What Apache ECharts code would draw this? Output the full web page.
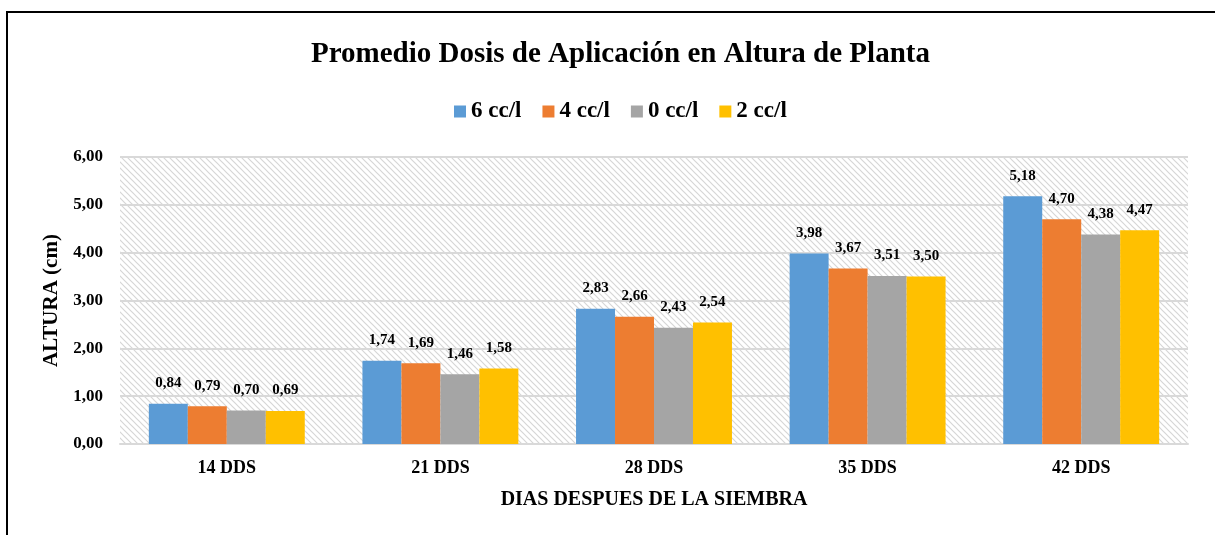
<!DOCTYPE html>
<html><head><meta charset="utf-8">
<script src="https://cdn.jsdelivr.net/npm/echarts@6/dist/echarts.min.js"></script>
<style>html,body{margin:0;padding:0;background:#fff}#c{width:1215px;height:535px}</style>
</head><body><div id="c"></div>
<script>
const categories = ['14 DDS','21 DDS','28 DDS','35 DDS','42 DDS'];
const s6 = [0.84,1.74,2.83,3.98,5.18];
const s4 = [0.79,1.69,2.66,3.67,4.70];
const s0 = [0.70,1.46,2.43,3.51,4.38];
const s2 = [0.69,1.58,2.54,3.50,4.47];
const seriesNames = ['6 cc/l','4 cc/l','0 cc/l','2 cc/l'];
const colors = ['#5B9BD5','#ED7D31','#A5A5A5','#FFC000'];

const pc = document.createElement('canvas');
pc.width = 6; pc.height = 6;
const pctx = pc.getContext('2d');
pctx.fillStyle = '#ffffff'; pctx.fillRect(0,0,6,6);
pctx.strokeStyle = '#d6d6d6'; pctx.lineWidth = 1.2;
pctx.beginPath();
pctx.moveTo(-1,-1); pctx.lineTo(7,7);
pctx.moveTo(-4,2); pctx.lineTo(4,10);
pctx.moveTo(2,-4); pctx.lineTo(10,4);
pctx.stroke();

const font = 'Liberation Serif';
const fmt = v => v.toFixed(2).replace('.', ',');
const chart = echarts.init(document.getElementById('c'));
const data = [s6,s4,s0,s2];
chart.setOption({
  animation:false,
  title:{text:'Promedio Dosis de Aplicación en Altura de Planta',left:306,top:35,
    textStyle:{fontFamily:font,fontWeight:'bold',fontSize:29,color:'#000'}},
  legend:{top:95,left:449,itemWidth:12,itemHeight:12,itemGap:21,icon:'rect',
    textStyle:{fontFamily:font,fontWeight:'bold',fontSize:23,color:'#000'},data:seriesNames},
  grid:{left:120,right:27,top:157,bottom:91,show:true,borderWidth:0,
    backgroundColor:{image:pc,repeat:'repeat'}},
  xAxis:{type:'category',data:categories,
    axisLine:{lineStyle:{color:'#d9d9d9',width:2}},axisTick:{show:false},
    axisLabel:{fontFamily:font,fontWeight:'bold',fontSize:18,color:'#000',margin:15},
    name:'DIAS DESPUES DE LA SIEMBRA',nameLocation:'middle',nameGap:46,
    nameTextStyle:{fontFamily:font,fontWeight:'bold',fontSize:20,color:'#000'}},
  yAxis:{type:'value',min:0,max:6,interval:1,
    axisLine:{show:false},axisTick:{show:false},
    splitLine:{lineStyle:{color:'#d9d9d9',width:2}},
    axisLabel:{fontFamily:font,fontWeight:'bold',fontSize:17,color:'#000',margin:17,formatter:v=>fmt(v)},
    name:'ALTURA (cm)',nameLocation:'middle',nameGap:54,nameRotate:90,
    nameTextStyle:{fontFamily:font,fontWeight:'bold',fontSize:21,color:'#000'}},
  series:data.map((d,i)=>({name:seriesNames[i],type:'bar',data:d,
    barGap:'0%',barCategoryGap:'27%',itemStyle:{color:colors[i]},
    label:{show:true,position:'top',distance:13,formatter:p=>fmt(p.value),
      fontFamily:font,fontWeight:'bold',fontSize:15,color:'#000'}})),
  graphic:[{type:'rect',shape:{x:7,y:12,width:1230,height:560},
    style:{fill:null,stroke:'#000',lineWidth:2},silent:true,z:100}]
});
</script></body></html>
